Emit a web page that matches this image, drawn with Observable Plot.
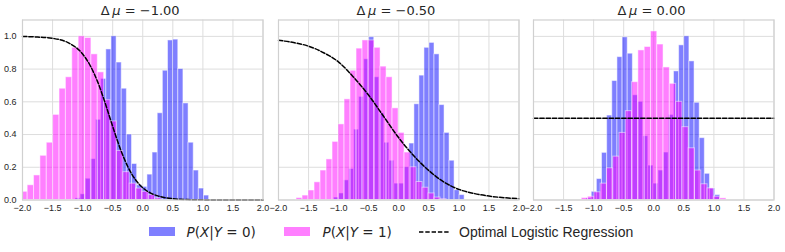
<!DOCTYPE html>
<html><head><meta charset="utf-8">
<script src="https://cdn.jsdelivr.net/npm/d3@7"></script>
<script src="https://cdn.jsdelivr.net/npm/@observablehq/plot@0.6"></script>
<style>
html,body{margin:0;padding:0;background:#fff;}
#chart{position:relative;width:785px;height:252px;overflow:hidden;background:#fff;}
.title{position:absolute;top:3.5px;font-family:'DejaVu Sans',sans-serif;font-size:13px;line-height:14px;color:#262626;white-space:nowrap;transform:translateX(-50%);}
.leg{position:absolute;top:224px;font-family:'DejaVu Sans',sans-serif;font-size:13.5px;line-height:16px;color:#262626;white-space:nowrap;}
.legtxt{font-family:'Liberation Sans',Arial,sans-serif;font-size:14px;}
.sw{position:absolute;top:227.3px;width:26.5px;height:9px;}
</style></head><body><div id="chart"></div>
<script>
// ---- data ----
const deltaMu = [-1.00, -0.50, 0.00];
const xTicks = [-2, -1.5, -1, -0.5, 0, 0.5, 1, 1.5, 2];
const yTicks = [0, 0.2, 0.4, 0.6, 0.8, 1.0];
const seriesLabels = ["P(X|Y=0)", "P(X|Y=1)", "Optimal Logistic Regression"];

// histogram bins: first bin edge and bin width per panel
const blueStart = [-1.119, -1.0755, -1.117];
const blueWidth = [0.0855, 0.0835, 0.0855];
const pinkStart = [-2.02, -1.70, -1.197];
const pinkWidth = [0.106, 0.0998, 0.1046];

// P(X|Y=0) bar heights
const blue1 = [0.01, 0.035, 0.13, 0.25, 0.49, 0.74, 0.92, 1.0, 0.84, 0.68, 0.40, 0.22, 0.09, 0.08, 0.155, 0.29, 0.53, 0.79, 0.975, 0.98, 0.80, 0.59, 0.35, 0.18, 0.07, 0.027];
const blue2 = [0.015, 0.04, 0.12, 0.19, 0.43, 0.63, 0.86, 0.995, 0.75, 0.53, 0.35, 0.24, 0.10, 0.10, 0.20, 0.345, 0.585, 0.76, 0.93, 0.96, 0.89, 0.58, 0.41, 0.24, 0.06, 0.03];
const blue3 = [0.01, 0.05, 0.128, 0.288, 0.516, 0.727, 0.873, 0.994, 0.894, 0.64, 0.60, 0.39, 0.21, 0.10, 0.18, 0.29, 0.52, 0.786, 0.945, 1.0, 0.847, 0.594, 0.378, 0.16, 0.07, 0.03];

// P(X|Y=1) bar heights
const pink1 = [0.05, 0.09, 0.15, 0.27, 0.35, 0.52, 0.68, 0.75, 0.93, 1.0, 0.99, 0.89, 0.78, 0.61, 0.48, 0.30, 0.17, 0.10, 0.07, 0.05, 0.03, 0.01];
const pink2 = [0.012, 0.027, 0.058, 0.108, 0.18, 0.248, 0.355, 0.462, 0.615, 0.79, 0.925, 0.975, 0.975, 0.93, 0.815, 0.75, 0.56, 0.41, 0.29, 0.20, 0.11, 0.075, 0.04, 0.015, 0.005];
const pink3 = [0.012, 0.02, 0.047, 0.10, 0.194, 0.265, 0.41, 0.543, 0.72, 0.914, 0.935, 1.03, 0.95, 0.81, 0.71, 0.60, 0.445, 0.316, 0.18, 0.096, 0.071, 0.02, 0.01];

// optimal logistic regression curves
const curveX1 = [-2, -1.75, -1.5, -1.25, -1, -0.875, -0.75, -0.625, -0.5, -0.375, -0.25, -0.125, 0, 0.125, 0.25, 0.5, 0.75, 1, 1.5, 2];
const curveY1 = [0.999, 0.996, 0.988, 0.963, 0.892, 0.822, 0.722, 0.592, 0.449, 0.314, 0.205, 0.126, 0.075, 0.0435, 0.025, 0.008, 0.0025, 0.0008, 0.0001, 0.0];
const curveX2 = [-2, -1.75, -1.5, -1.25, -1, -0.75, -0.5, -0.25, 0, 0.25, 0.5, 0.75, 1, 1.25, 1.5, 1.75, 2];
const curveY2 = [0.976, 0.962, 0.94, 0.90, 0.843, 0.75, 0.64, 0.51, 0.38, 0.27, 0.18, 0.11, 0.065, 0.04, 0.024, 0.014, 0.008];
const curveX3 = [-2, 2];
const curveY3 = [0.5, 0.5];

// ---- build ----
const blues = [blue1, blue2, blue3];
const pinks = [pink1, pink2, pink3];
const curvesX = [curveX1, curveX2, curveX3];
const curvesY = [curveY1, curveY2, curveY3];

function bars(start, width, heights) {
  return heights.map((h, i) => ({
    x1: Math.max(-2, start + i * width),
    x2: Math.min(2, start + (i + 1) * width),
    y1: 0,
    y2: h
  }));
}

const chart = document.getElementById("chart");
const fmt1 = d3.format(".1f");
const fmt2 = d3.format(".2f");
const frameLeft = [22, 277.7, 533.3];
const innerW = 240.5;

deltaMu.forEach((dm, i) => {
  const blueRows = bars(blueStart[i], blueWidth[i], blues[i]);
  const pinkRows = bars(pinkStart[i], pinkWidth[i], pinks[i]);
  const curveRows = curvesX[i].map((x, j) => ({x, y: curvesY[i][j]}));
  const svg = Plot.plot({
    width: 22 + innerW + 10,
    height: 222,
    marginLeft: 22, marginRight: 10, marginTop: 19.5, marginBottom: 22.5,
    style: {background: "none", overflow: "visible", fontFamily: "'Liberation Sans', Arial, sans-serif", fontSize: "9px", color: "#262626"},
    x: {domain: [-2, 2], ticks: xTicks, tickFormat: fmt1, tickSize: 0, tickPadding: 4.5, label: null},
    y: {domain: [0, 1.1], ticks: yTicks, tickFormat: fmt1, tickSize: 0, tickPadding: 6, label: null, axis: i === 0 ? "left" : null},
    marks: [
      Plot.ruleX(xTicks, {stroke: "#dddddd", strokeWidth: 1}),
      Plot.ruleY(yTicks, {stroke: "#dddddd", strokeWidth: 1}),
      Plot.rect(blueRows, {x1: "x1", x2: "x2", y1: "y1", y2: "y2", fill: "blue", fillOpacity: 0.5, stroke: "white", strokeOpacity: 0.5, strokeWidth: 1}),
      Plot.rect(pinkRows, {x1: "x1", x2: "x2", y1: "y1", y2: "y2", fill: "magenta", fillOpacity: 0.5, stroke: "white", strokeOpacity: 0.5, strokeWidth: 1}),
      Plot.line(curveRows, {x: "x", y: "y", stroke: "black", strokeWidth: 1.5, strokeDasharray: "4.4,1.9", curve: "monotone-x"}),
      Plot.frame({stroke: "#d0d0d0", strokeWidth: 1.2})
    ]
  });
  svg.style.position = "absolute";
  svg.style.left = (frameLeft[i] - 22) + "px";
  svg.style.top = "0px";
  chart.appendChild(svg);

  const t = document.createElement("div");
  t.className = "title";
  t.style.left = (frameLeft[i] + innerW / 2 - 2) + "px";
  t.innerHTML = "Δ\u2009<i>μ</i> = " + fmt2(dm);
  chart.appendChild(t);
});

// ---- legend ----
function add(html, cls, left, extra) {
  const d = document.createElement("div");
  d.className = cls;
  d.style.left = left + "px";
  if (extra) Object.assign(d.style, extra);
  d.innerHTML = html;
  chart.appendChild(d);
}
function mathLabel(s) {
  return s.replace(/([A-Z])/g, "<i>$1</i>").replace("=", " = ");
}
add("", "sw", 148.5, {background: "rgba(0,0,255,0.5)"});
add(mathLabel(seriesLabels[0]), "leg", 186.5);
add("", "sw", 283.5, {background: "rgba(255,0,255,0.5)"});
add(mathLabel(seriesLabels[1]), "leg", 322.5);
add('<svg width="30" height="6" style="display:block"><line x1="0" y1="3" x2="30" y2="3" stroke="black" stroke-width="1.5" stroke-dasharray="4.4,1.9"/></svg>', "leg", 418.5, {top: "229px"});
add('<span class="legtxt">' + seriesLabels[2] + '</span>', "leg", 459);
</script>
</body></html>
